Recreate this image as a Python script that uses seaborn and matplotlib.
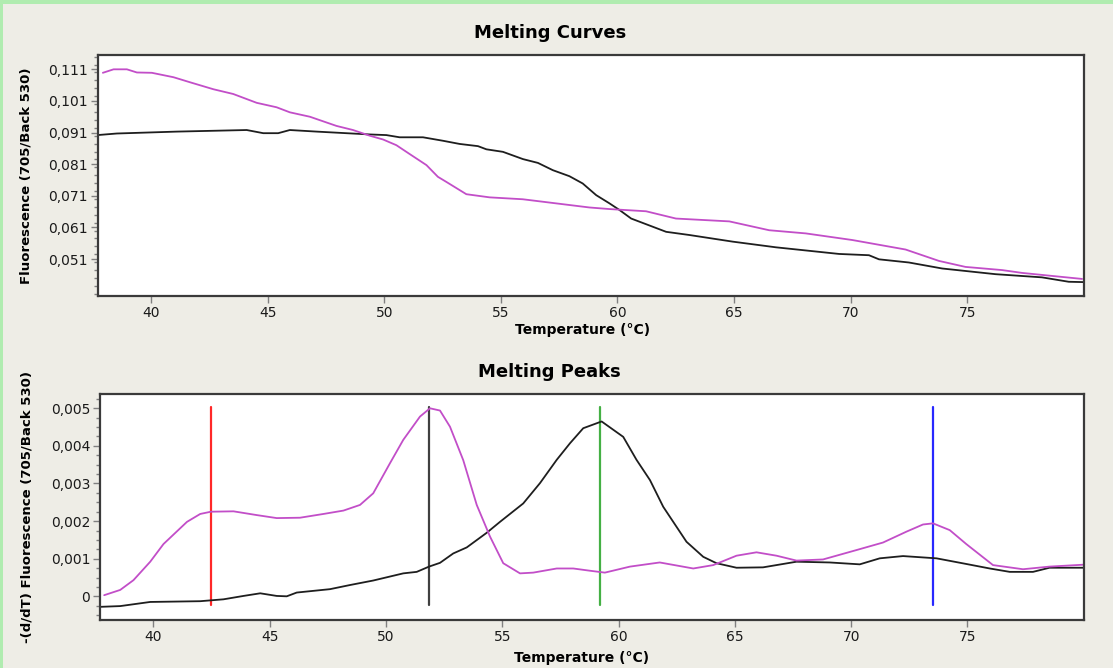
import matplotlib
matplotlib.use("Agg")
import matplotlib.pyplot as plt
import seaborn as sns
import pandas as pd
from matplotlib.patches import Rectangle
from matplotlib.ticker import MultipleLocator

# ---------------- data ----------------
curve_mag_t = [37.93, 38.39, 38.96, 39.39, 40.03, 40.96, 41.67, 42.67, 43.52, 44.53, 45.38, 45.95,
               46.81, 47.95, 48.66, 49.38, 49.95, 50.52, 51.09, 51.81, 52.30, 52.66, 53.52, 54.52,
               55.94, 57.37, 58.80, 59.66, 61.23, 62.51, 64.80, 66.51, 68.08, 70.08, 72.36, 73.79,
               74.93, 76.50, 77.36, 79.93]
curve_mag_f = [0.1099, 0.1110, 0.1110, 0.1100, 0.1099, 0.1085, 0.1069, 0.1047, 0.1032, 0.1004, 0.0990, 0.0974,
               0.0960, 0.0931, 0.0918, 0.0900, 0.0888, 0.0870, 0.0842, 0.0807, 0.0770, 0.0754, 0.0715, 0.0705,
               0.0699, 0.0686, 0.0673, 0.0668, 0.0661, 0.0638, 0.0629, 0.0601, 0.0591, 0.0570, 0.0540, 0.0504,
               0.0485, 0.0475, 0.0466, 0.0447]

curve_blk_t = [37.70, 38.53, 41.10, 44.10, 44.81, 45.45, 45.95, 47.10, 49.38, 50.09, 50.66, 51.66,
               52.52, 53.23, 54.02, 54.38, 55.09, 55.95, 56.59, 57.23, 57.94, 58.51, 59.09, 59.66,
               60.09, 60.59, 62.09, 63.08, 64.94, 66.80, 69.51, 70.79, 71.22, 72.50, 73.93, 76.22,
               78.21, 79.36, 79.97]
curve_blk_f = [0.0902, 0.0907, 0.0913, 0.0918, 0.0908, 0.0908, 0.0918, 0.0913, 0.0904, 0.0902, 0.0895, 0.0895,
               0.0884, 0.0874, 0.0867, 0.0857, 0.0849, 0.0826, 0.0814, 0.0791, 0.0772, 0.0749, 0.0712, 0.0686,
               0.0665, 0.0638, 0.0596, 0.0586, 0.0565, 0.0547, 0.0526, 0.0522, 0.0509, 0.0499, 0.0480, 0.0462,
               0.0452, 0.0438, 0.0437]

peak_mag_t = [37.88, 38.57, 39.14, 39.86, 40.43, 41.44, 42.01, 42.47, 43.44, 44.44, 45.30, 46.30,
              47.31, 48.17, 48.88, 49.45, 50.17, 50.74, 51.46, 51.89, 52.32, 52.75, 53.32, 53.90,
              54.47, 55.04, 55.76, 56.33, 57.34, 58.05, 58.77, 59.41, 60.49, 61.77, 63.21, 64.07,
              65.07, 65.93, 66.79, 67.65, 68.79, 70.23, 71.37, 72.38, 73.09, 73.52, 74.24, 74.95,
              76.10, 77.39, 78.53, 79.97]
peak_mag_d = [0.00003, 0.00017, 0.00043, 0.00092, 0.00139, 0.00198, 0.00219, 0.00225, 0.00226, 0.00216, 0.00208, 0.00209,
              0.00219, 0.00228, 0.00243, 0.00274, 0.00354, 0.00416, 0.00478, 0.00500, 0.00494, 0.00451, 0.00362, 0.00243,
              0.00159, 0.00088, 0.00061, 0.00063, 0.00074, 0.00074, 0.00068, 0.00063, 0.00079, 0.00090, 0.00074, 0.00083,
              0.00108, 0.00117, 0.00108, 0.00095, 0.00098, 0.00123, 0.00143, 0.00172, 0.00191, 0.00194, 0.00176, 0.00139,
              0.00083, 0.00072, 0.00079, 0.00084]

peak_blk_t = [37.71, 38.57, 39.86, 42.01, 43.01, 43.87, 44.59, 45.30, 45.73, 46.16, 47.59, 48.45,
              49.45, 50.74, 51.32, 51.85, 52.32, 52.89, 53.47, 54.33, 54.90, 55.90, 56.62, 57.34,
              57.91, 58.48, 59.27, 60.20, 60.77, 61.35, 61.92, 62.35, 62.92, 63.64, 64.21, 65.07,
              66.21, 67.65, 69.08, 70.37, 71.23, 72.23, 73.67, 74.95, 75.96, 76.82, 77.82, 78.53,
              79.97]
peak_blk_d = [-0.00028, -0.00026, -0.00015, -0.00013, -0.00008, 0.00001, 0.00008, 0.00001, 0.00000, 0.00010, 0.00019, 0.00030,
              0.00042, 0.00061, 0.00065, 0.00079, 0.00089, 0.00114, 0.00130, 0.00169, 0.00198, 0.00247, 0.00301, 0.00363,
              0.00407, 0.00447, 0.00465, 0.00424, 0.00363, 0.00309, 0.00238, 0.00198, 0.00145, 0.00105, 0.00088, 0.00076,
              0.00077, 0.00092, 0.00090, 0.00085, 0.00101, 0.00107, 0.00101, 0.00086, 0.00074, 0.00065, 0.00065, 0.00076,
              0.00076]

marker_t = [42.47, 51.85, 59.22, 73.52]
marker_colors = ["#ff2828", "#404040", "#44b044", "#2828ff"]
marker_top = 0.00503
marker_bottom = -0.00023

curves_yticks = [0.051, 0.061, 0.071, 0.081, 0.091, 0.101, 0.111]
curves_yticklabels = ["0,051", "0,061", "0,071", "0,081", "0,091", "0,101", "0,111"]
peaks_yticks = [0, 0.001, 0.002, 0.003, 0.004, 0.005]
peaks_yticklabels = ["0", "0,001", "0,002", "0,003", "0,004", "0,005"]
xticks = [40, 45, 50, 55, 60, 65, 70, 75]

MAG = "#c24ec8"
BLK = "#1e1e1e"
BG = "#eeede6"

# ---------------- figure ----------------
sns.set_style("white")
plt.rcParams["font.family"] = ["DejaVu Sans"]

fig = plt.figure(figsize=(11.13, 6.68), dpi=100, facecolor=BG)
W, H = 1113, 668
def rect(l, t, r, b):
    return [l / W, 1 - b / H, (r - l) / W, (b - t) / H]

ax1 = fig.add_axes(rect(97.5, 55, 1083.7, 296))
ax2 = fig.add_axes(rect(100, 394, 1083.7, 620))

df1m = pd.DataFrame({"t": curve_mag_t, "v": curve_mag_f})
df1b = pd.DataFrame({"t": curve_blk_t, "v": curve_blk_f})
sns.lineplot(data=df1b, x="t", y="v", ax=ax1, color=BLK, lw=1.3, sort=False)
sns.lineplot(data=df1m, x="t", y="v", ax=ax1, color=MAG, lw=1.3, sort=False)

for t, c in zip(marker_t, marker_colors):
    ax2.plot([t, t], [marker_bottom, marker_top], color=c, lw=1.6)
df2m = pd.DataFrame({"t": peak_mag_t, "v": peak_mag_d})
df2b = pd.DataFrame({"t": peak_blk_t, "v": peak_blk_d})
sns.lineplot(data=df2b, x="t", y="v", ax=ax2, color=BLK, lw=1.3, sort=False)
sns.lineplot(data=df2m, x="t", y="v", ax=ax2, color=MAG, lw=1.3, sort=False)

ax1.set_ylim(0.0393, 0.11553)
ax1.set_yticks(curves_yticks)
ax1.set_yticklabels(curves_yticklabels)
ax1.yaxis.set_minor_locator(MultipleLocator(0.0025))
ax2.set_ylim(-0.00063, 0.00538)
ax2.set_yticks(peaks_yticks)
ax2.set_yticklabels(peaks_yticklabels)
ax2.yaxis.set_minor_locator(MultipleLocator(0.00025))

for ax, title, ylab, tx, lx, ly in [(ax1, "Melting Curves", "Fluorescence (705/Back 530)", 0.459, 0.492, -0.112),
                                    (ax2, "Melting Peaks", "-(d/dT) Fluorescence (705/Back 530)", 0.457, 0.490, -0.138)]:
    ax.set_xlim(37.7, 80.0)
    ax.set_xticks(xticks)
    ax.set_xticklabels([str(x) for x in xticks])
    ax.set_facecolor("white")
    for s in ax.spines.values():
        s.set_visible(True)
        s.set_color("#3a3a3a")
        s.set_linewidth(1.6)
    ax.tick_params(axis="both", which="major", direction="out", length=5, width=1,
                   color="#808080", labelsize=10, labelcolor="#1a1a1a", pad=2,
                   left=True, bottom=True)
    ax.tick_params(axis="y", which="minor", direction="out", length=3, width=1,
                   color="#808080", left=True)
    ax.set_xlabel("Temperature (°C)", fontsize=10, fontweight="bold", color="black")
    ax.xaxis.set_label_coords(lx, ly)
    ax.set_ylabel(ylab, fontsize=9.5, fontweight="bold", color="black")
    ax.set_title(title, fontsize=13, fontweight="bold", pad=12, x=tx, color="black")

ax1.yaxis.set_label_coords(-0.066, 0.5)
ax2.yaxis.set_label_coords(-0.068, 0.5)

# green frame strips (top and left)
fig.patches.append(Rectangle((0, 1 - 4 / H), 1, 4 / H, transform=fig.transFigure,
                             facecolor="#b0ecb0", edgecolor="none"))
fig.patches.append(Rectangle((0, 0), 3 / W, 1, transform=fig.transFigure,
                             facecolor="#b0ecb0", edgecolor="none"))

fig.savefig("out.png", dpi=100, facecolor=BG)
